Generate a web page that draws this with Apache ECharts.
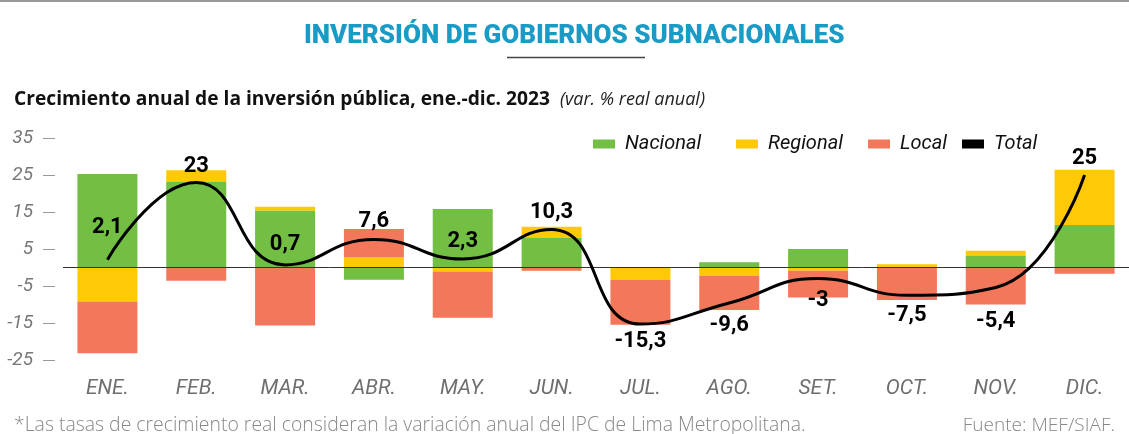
<!DOCTYPE html>
<html>
<head>
<meta charset="utf-8">
<script src="https://cdn.jsdelivr.net/npm/echarts@6/dist/echarts.min.js"></script>
<style>
  html, body { margin: 0; padding: 0; background: #fff; }
  #chart { width: 1129px; height: 434px; }
</style>
</head>
<body>
<div id="chart"></div>
<script>
var meses = ['ENE.', 'FEB.', 'MAR.', 'ABR.', 'MAY.', 'JUN.', 'JUL.', 'AGO.', 'SET.', 'OCT.', 'NOV.', 'DIC.'];
var nacional = [25.3, 23.1, 15.4, -3.3, 15.8, 8.0, 0, 1.4, 5.0, 0, 3.1, 11.5];
var regional = [-9.2, 3.2, 1.0, 2.8, -1.1, 3.0, -3.4, -2.3, -0.9, 0.9, 1.4, 14.9];
var local = [-14.0, -3.6, -15.7, 7.6, -12.5, -0.9, -12.1, -9.2, -7.2, -8.8, -10.0, -1.7];
var total = [2.1, 23, 0.7, 7.6, 2.3, 10.3, -15.3, -9.6, -3, -7.5, -5.4, 25];

var myChart = echarts.init(document.getElementById('chart'));

// distancia de cada etiqueta del total a su punto
var labelGap = [21, 4, 9, 6, 6, 5, 6, 11, 10, 9, 23, 5];

var totalData = total.map(function (v, i) {
    return {
        value: v,
        label: { position: v >= 0 ? 'top' : 'bottom', distance: labelGap[i] }
    };
});

var barBase = {
    type: 'bar',
    stack: 'inv',
    barWidth: 60,
    emphasis: { disabled: true }
};

// una leyenda por serie, para fijar la posición de cada una
var legendLeft = { Nacional: 588, Regional: 731, Local: 863, Total: 957 };
var legends = ['Nacional', 'Regional', 'Local', 'Total'].map(function (n) {
    var item = { name: n, icon: 'rect' };
    if (n === 'Total') item.itemStyle = { color: '#000' };
    return {
        left: legendLeft[n],
        top: 129,
        itemWidth: 22,
        itemHeight: 9,
        selectedMode: false,
        textStyle: { color: '#111', fontFamily: 'Roboto', fontStyle: 'italic', fontSize: 20, padding: [0, 0, 0, 5] },
        data: [item]
    };
});

var option = {
    backgroundColor: '#fff',
    animation: false,
    title: [
        {
            text: 'INVERSIÓN DE GOBIERNOS SUBNACIONALES',
            left: 299,
            top: 18,
            textStyle: { color: '#1a9bc6', fontFamily: 'Roboto', fontWeight: 900, fontSize: 26 }
        },
        {
            text: '{a|Crecimiento anual de la inversión pública, ene.-dic. 2023}  {b|(var. % real anual)}',
            left: 9,
            top: 85,
            textStyle: {
                rich: {
                    a: { color: '#111', fontFamily: 'Open Sans', fontWeight: 'bold', fontSize: 19.2 },
                    b: { color: '#222', fontFamily: 'Open Sans', fontStyle: 'italic', fontWeight: 'normal', fontSize: 18 }
                }
            }
        },
        {
            text: '*Las tasas de crecimiento real consideran la variación anual del IPC de Lima Metropolitana.',
            left: 9,
            top: 411,
            textStyle: { color: '#888', fontFamily: 'Open Sans', fontWeight: 300, fontSize: 19.4 }
        },
        {
            text: 'Fuente: MEF/SIAF.',
            right: 9,
            top: 411,
            textStyle: { color: '#888', fontFamily: 'Open Sans', fontWeight: 300, fontSize: 19 }
        }
    ],
    graphic: [
        { type: 'line', shape: { x1: 0, y1: 1, x2: 1129, y2: 1 }, style: { stroke: '#999', lineWidth: 2 } },
        { type: 'line', shape: { x1: 507, y1: 57.5, x2: 645, y2: 57.5 }, style: { stroke: '#444', lineWidth: 1.5 } }
    ],
    legend: legends,
    grid: { left: 63, top: 138, width: 1073, height: 222 },
    xAxis: {
        type: 'category',
        data: meses,
        axisLine: { show: false, onZero: false },
        axisTick: { show: false },
        axisLabel: { margin: 18, color: '#6f6f6f', fontFamily: 'Roboto', fontStyle: 'italic', fontSize: 21 }
    },
    yAxis: {
        type: 'value',
        min: -25,
        max: 35,
        interval: 10,
        offset: 8,
        splitLine: { show: false },
        axisLine: { show: false },
        axisTick: { show: true, length: 12, lineStyle: { color: '#999', width: 1 } },
        axisLabel: { margin: 22, color: '#777', fontFamily: 'Roboto', fontStyle: 'italic', fontSize: 19 }
    },
    series: [
        Object.assign({}, barBase, {
            name: 'Nacional', data: nacional, itemStyle: { color: '#72bf44' },
            markLine: {
                silent: true, symbol: 'none', label: { show: false },
                lineStyle: { color: '#333', width: 1, type: 'solid' },
                data: [{ yAxis: 0 }]
            }
        }),
        Object.assign({}, barBase, { name: 'Regional', data: regional, itemStyle: { color: '#ffc907' } }),
        Object.assign({}, barBase, { name: 'Local', data: local, itemStyle: { color: '#f3775a' } }),
        {
            name: 'Total',
            type: 'line',
            smooth: 0.5,
            symbol: 'circle',
            symbolSize: 1,
            itemStyle: { color: 'rgba(0,0,0,0)' },
            lineStyle: { color: '#000', width: 3 },
            label: {
                show: true,
                color: '#000',
                fontFamily: 'Roboto',
                fontWeight: 'bold',
                fontSize: 22,
                formatter: function (p) { return String(p.value).replace('.', ','); }
            },
            z: 5,
            data: totalData
        }
    ]
};

myChart.setOption(option);
</script>
</body>
</html>
